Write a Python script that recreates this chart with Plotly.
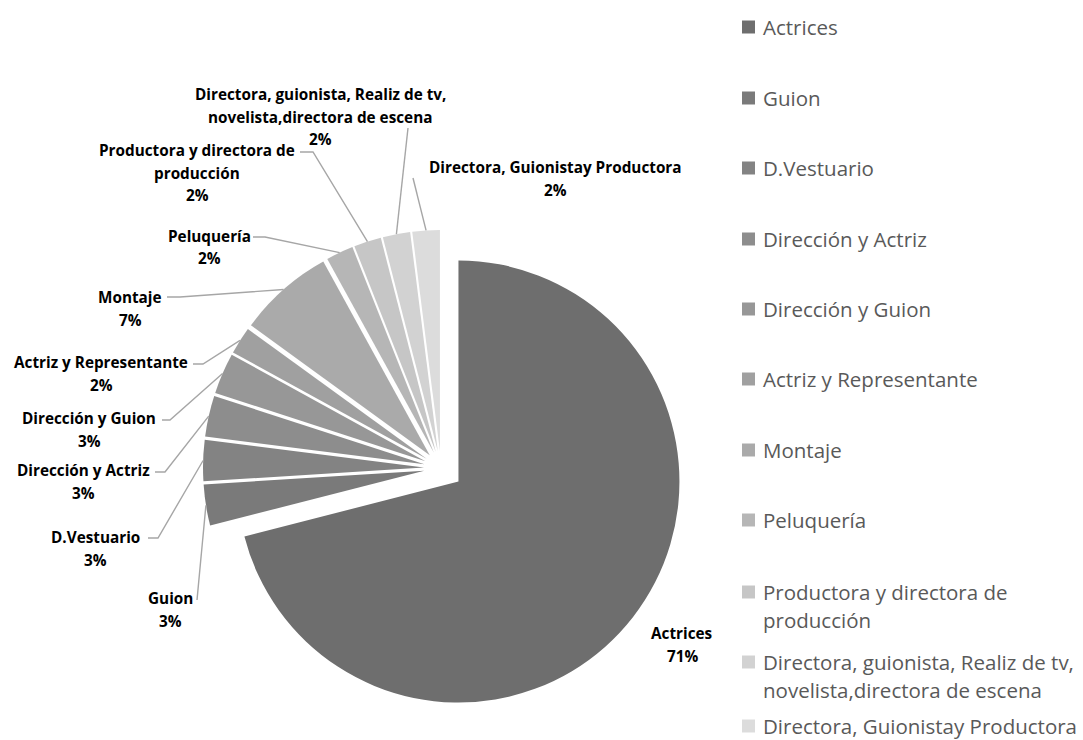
import math
import plotly.graph_objects as go

W, H = 1083, 740

# --- data -------------------------------------------------------------
categories = [
    "Actrices",
    "Guion",
    "D.Vestuario",
    "Dirección y Actriz",
    "Dirección y Guion",
    "Actriz y Representante",
    "Montaje",
    "Peluquería",
    "Productora y directora de<br>producción",
    "Directora, guionista, Realiz de tv,<br>novelista,directora de escena",
    "Directora, Guionistay Productora",
]
percentages = [71, 3, 3, 3, 3, 2, 7, 2, 2, 2, 2]
slice_colors = [
    "#6e6e6e", "#7a7a7a", "#838383", "#8d8d8d", "#979797", "#a0a0a0",
    "#aaaaaa", "#b6b6b6", "#c6c6c6", "#d2d2d2", "#dcdcdc",
]
pulls = [0.10] + [0.077] * 10

# --- layout (pixel positions) -----------------------------------------
# first-line centre of each outside data label
label_xy = [
    (682, 633), (170, 598), (95, 537), (83, 470), (89, 418), (101, 362),
    (130, 297), (209, 236), (197, 150), (320, 94), (555, 167),
]
# leader start point at the label and optional elbow x
leader_start = [
    None, (197, 600, None), (148, 538, 158), (155, 472, 165), (162, 420, 170),
    (193, 364, 203), (167, 297, 180), (253, 237, 265), (300, 152, 313),
    (408, 128, None), (413, 178, None),
]
LABEL_LINE_GAP = 22.5
LABEL_FONT_SIZE = 15.3

# legend rows: first-line centre y of each entry
legend_rows_y = [27, 98, 168, 239, 309, 379, 450, 520, 592, 662, 726]
LEGEND_SWATCH_X = (742, 755)
LEGEND_TEXT_X = 761
LEGEND_LINE_GAP = 28
LEGEND_FONT_SIZE = 20.5

dom_x = [0.1827, 0.6317]
dom_y = [0.0391, 0.6961]

fig = go.Figure(
    go.Pie(
        labels=[c.replace("<br>", " ") for c in categories],
        values=percentages,
        marker=dict(colors=slice_colors, line=dict(color="#ffffff", width=0)),
        pull=pulls,
        sort=False,
        direction="clockwise",
        rotation=0,
        textinfo="none",
        hoverinfo="label+percent",
        domain=dict(x=dom_x, y=dom_y),
        showlegend=False,
    )
)

# pie geometry as laid out by plotly (margins are zero)
cx = W * (dom_x[0] + dom_x[1]) / 2
cy = H * (1 - (dom_y[0] + dom_y[1]) / 2)
r = min(W * (dom_x[1] - dom_x[0]), H * (dom_y[1] - dom_y[0])) / (2 * (1 + max(pulls)))


def px(x, y):
    return x / W, 1 - y / H


total = sum(percentages)
annotations = []
shapes = []
cum = 0.0
for i, (name, val) in enumerate(zip(categories, percentages)):
    mid = (cum + val / 2) / total
    cum += val
    ang = 2 * math.pi * mid
    ux, uy = math.sin(ang), -math.cos(ang)
    edge_x = cx + (r + pulls[i] * r) * ux
    edge_y = cy + (r + pulls[i] * r) * uy

    # data label, one annotation per line
    lines = [f"<b>{t}</b>" for t in name.split("<br>")] + [f"<b>{round(100 * val / total)}%</b>"]
    lx, ly = label_xy[i]
    for k, t in enumerate(lines):
        ax, ay = px(lx, ly + k * LABEL_LINE_GAP)
        annotations.append(dict(
            x=ax, y=ay, xref="paper", yref="paper",
            text=t, showarrow=False, xanchor="center", yanchor="middle",
            font=dict(family="Open Sans", size=LABEL_FONT_SIZE, color="#000000"),
        ))

    # leader line
    if leader_start[i] is not None:
        sx, sy, ex = leader_start[i]
        pts = [(sx, sy)]
        if ex is not None:
            pts.append((ex, sy))
        pts.append((edge_x, edge_y))
        path = "M " + " L ".join("{:.5f},{:.5f}".format(*px(a, b)) for a, b in pts)
        shapes.append(dict(type="path", path=path, xref="paper", yref="paper",
                           line=dict(color="#a6a6a6", width=1.4)))

    # legend entry
    ry = legend_rows_y[i]
    x0, y0 = px(LEGEND_SWATCH_X[0], ry + 6.5)
    x1, y1 = px(LEGEND_SWATCH_X[1], ry - 6.5)
    shapes.append(dict(type="rect", xref="paper", yref="paper",
                       x0=x0, y0=y0, x1=x1, y1=y1,
                       fillcolor=slice_colors[i], line=dict(width=0)))
    for k, t in enumerate(name.split("<br>")):
        tx, ty = px(LEGEND_TEXT_X, ry + k * LEGEND_LINE_GAP)
        annotations.append(dict(
            x=tx, y=ty, xref="paper", yref="paper",
            text=t, showarrow=False, xanchor="left", yanchor="middle",
            font=dict(family="Open Sans", size=LEGEND_FONT_SIZE, color="#595959"),
        ))

fig.update_layout(
    width=W, height=H,
    margin=dict(l=0, r=0, t=0, b=0),
    paper_bgcolor="#ffffff",
    plot_bgcolor="#ffffff",
    showlegend=False,
    annotations=annotations,
    shapes=shapes,
)

fig.write_html("out.html")
